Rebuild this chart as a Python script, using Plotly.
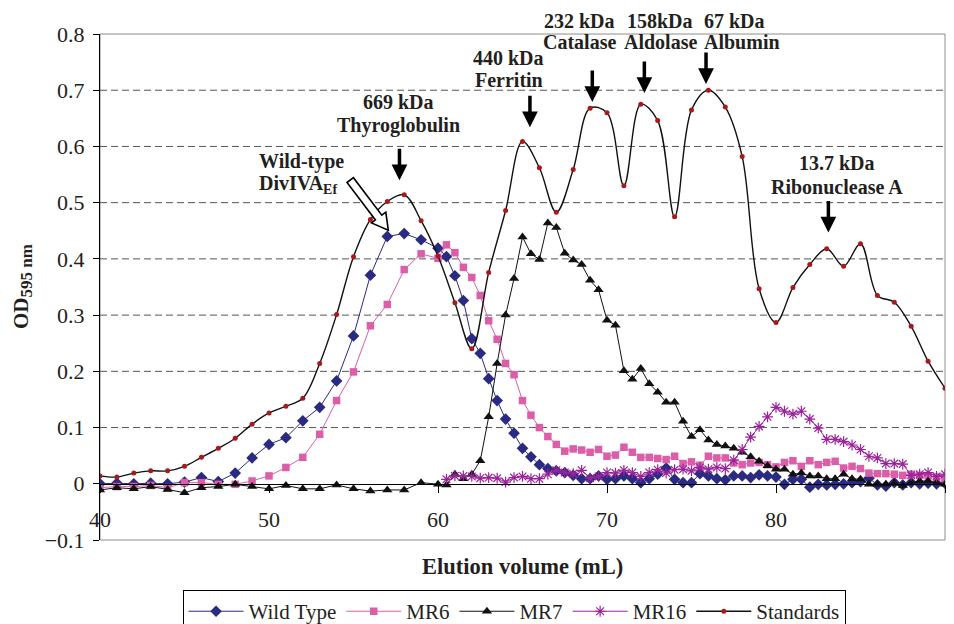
import plotly.graph_objects as go

# ---------------- data ----------------
x_main = [40, 41, 42, 43, 44, 45, 46, 47, 48, 49, 50, 51, 52, 53, 54, 55, 56, 57, 58, 59, 60,
          60.5, 61, 61.5, 62, 62.5, 63, 63.5, 64, 64.5, 65, 65.5, 66, 66.5, 67, 67.5, 68, 68.5,
          69, 69.5, 70, 70.5, 71, 71.5, 72, 72.5, 73, 73.5, 74, 74.5, 75, 75.5, 76, 76.5, 77,
          77.5, 78, 78.5, 79, 79.5, 80, 80.5, 81, 81.5, 82, 82.5, 83, 83.5, 84, 84.5, 85, 85.5,
          86, 86.5, 87, 87.5, 88, 88.5, 89, 89.5, 90]

wild_type = [0.000, 0.001, 0.000, 0.001, 0.000, 0.003, 0.011, 0.004, 0.019, 0.046, 0.070, 0.082,
             0.112, 0.136, 0.183, 0.263, 0.371, 0.440, 0.445, 0.434, 0.419,
             0.404, 0.370, 0.326, 0.258, 0.232, 0.187, 0.148, 0.115, 0.090, 0.063, 0.048, 0.034,
             0.027, 0.023, 0.020, 0.015, 0.009, 0.009, 0.014, 0.008, 0.009, 0.014, 0.009, 0.002,
             0.009, 0.017, 0.028, 0.008, 0.002, 0.002, 0.018, 0.014, 0.009, 0.007, 0.014, 0.014,
             0.011, 0.016, 0.014, 0.012, -0.001, 0.008, 0.008, -0.006, -0.001, -0.002, -0.001,
             0.000, 0.002, 0.004, 0.010, -0.002, -0.004, 0.002, -0.002, 0.002, 0.000, 0.001,
             0.000, 0.001]

mr6 = [-0.007, -0.005, -0.005, -0.003, -0.007, 0.002, 0.002, -0.001, -0.001, 0.005, 0.014, 0.029,
       0.047, 0.088, 0.148, 0.199, 0.281, 0.319, 0.381, 0.409, 0.401,
       0.425, 0.411, 0.385, 0.367, 0.335, 0.290, 0.257, 0.214, 0.194, 0.148, 0.122, 0.100, 0.084,
       0.070, 0.058, 0.062, 0.060, 0.056, 0.061, 0.049, 0.051, 0.065, 0.056, 0.047, 0.047, 0.045,
       0.043, 0.049, 0.036, 0.039, 0.033, 0.049, 0.046, 0.046, 0.037, 0.034, 0.037, 0.038, 0.034,
       0.030, 0.038, 0.041, 0.031, 0.041, 0.034, 0.038, 0.040, 0.028, 0.031, 0.027, 0.019, 0.018,
       0.018, 0.017, 0.015, 0.017, 0.015, 0.014, 0.012, 0.009]

mr7 = [-0.011, -0.007, -0.009, -0.005, -0.010, -0.016, -0.007, -0.005, -0.001, -0.005, -0.009,
       -0.003, -0.009, -0.009, -0.002, -0.009, -0.013, -0.011, -0.011, 0.002, -0.001,
       -0.002, 0.017, 0.009, 0.017, 0.041, 0.119, 0.214, 0.300, 0.365, 0.439, 0.409, 0.399, 0.464,
       0.456, 0.410, 0.398, 0.390, 0.362, 0.345, 0.291, 0.282, 0.201, 0.186, 0.205, 0.178, 0.163,
       0.145, 0.145, 0.111, 0.084, 0.096, 0.078, 0.070, 0.067, 0.063, 0.056, 0.048, 0.040, 0.032,
       0.026, 0.026, 0.017, 0.019, 0.014, 0.014, 0.009, 0.009, 0.017, 0.009, 0.008, -0.001,
       -0.001, -0.001, 0.001, -0.003, 0.002, 0.005, 0.005, 0.002, -0.001]

x_mr16 = [60.5, 61, 61.5, 62, 62.5, 63, 63.5, 64, 64.5, 65, 65.5, 66, 66.5, 67, 67.5, 68, 68.5,
          69, 69.5, 70, 70.5, 71, 71.5, 72, 72.5, 73, 73.5, 74, 74.5, 75, 75.5, 76, 76.5, 77,
          77.5, 78, 78.5, 79, 79.5, 80, 80.5, 81, 81.5, 82, 82.5, 83, 83.5, 84, 84.5, 85, 85.5,
          86, 86.5, 87, 87.5, 88, 88.5, 89, 89.5, 90]

mr16 = [0.008, 0.014, 0.014, 0.013, 0.010, 0.011, 0.010, 0.003, 0.011, 0.013, 0.009, 0.009, 0.017,
        0.024, 0.020, 0.018, 0.024, 0.010, 0.013, 0.020, 0.019, 0.024, 0.020, 0.013, 0.020, 0.025,
        0.019, 0.025, 0.026, 0.023, 0.029, 0.026, 0.029, 0.027, 0.042, 0.061, 0.083, 0.102, 0.119,
        0.136, 0.129, 0.124, 0.129, 0.115, 0.099, 0.079, 0.079, 0.075, 0.069, 0.061, 0.049, 0.046,
        0.036, 0.036, 0.035, 0.015, 0.017, 0.020, 0.013, 0.017]

x_std = [40, 41, 42, 43, 44, 45, 46, 47, 48, 49, 50, 51, 52, 53, 54, 55, 56, 57, 58, 59, 60,
         61, 62, 63, 64, 65, 66, 67, 68, 69, 70, 71, 72, 73, 74, 75, 76, 77, 78, 79, 80,
         81, 82, 83, 84, 85, 86, 87, 88, 89, 90]

standards = [0.014, 0.012, 0.019, 0.023, 0.023, 0.031, 0.047, 0.063, 0.081, 0.106, 0.126, 0.138,
             0.152, 0.214, 0.301, 0.404, 0.470, 0.502, 0.514, 0.468, 0.405, 0.322, 0.240, 0.376,
             0.486, 0.609, 0.562, 0.483, 0.559, 0.668, 0.660, 0.530, 0.675, 0.646, 0.475, 0.665,
             0.700, 0.670, 0.582, 0.347, 0.287, 0.349, 0.390, 0.418, 0.387, 0.427, 0.335, 0.323,
             0.280, 0.218, 0.170]

x_range = [40, 90]
y_range = [-0.1, 0.8]
x_ticks = [40, 50, 60, 70, 80, 90]
y_ticks = [-0.1, 0, 0.1, 0.2, 0.3, 0.4, 0.5, 0.6, 0.7, 0.8]
y_grid = [0.1, 0.2, 0.3, 0.4, 0.5, 0.6, 0.7]

# labels: (line1, line2, text x, line1 y, line2 y, anchor, arrow x, arrow tip y)
peak_labels = [
    ("669 kDa", "Thyroglobulin", 57.65, 0.679, 0.638, "center", 57.72, 0.540),
    ("440 kDa", "Ferritin", 64.2, 0.757, 0.718, "center", 65.44, 0.634),
    ("232 kDa", "Catalase", 68.35, 0.824, 0.785, "center", 69.13, 0.679),
    ("158kDa", "Aldolase", 73.16, 0.824, 0.785, "center", 72.21, 0.695),
    ("67 kDa", "Albumin", 75.62, 0.824, 0.785, "left", 75.86, 0.711),
    ("13.7 kDa", "Ribonuclease A", 83.6, 0.571, 0.527, "center", 83.1, 0.447),
]
wt_label = ("Wild-type", "DivIVA<sub>Ef</sub>", 49.27, 0.573, 0.532, "left", 57.06, 0.451)

SERIF = "Liberation Serif, Times New Roman, serif"
TXT = "#231f20"
BODY = 8  # default page margin of the html body; the figure is shrunk to compensate


def ypaper(v):
    return (v - y_range[0]) / (y_range[1] - y_range[0])


fig = go.Figure()

fig.add_trace(go.Scatter(
    x=x_main, y=wild_type, name="Wild Type", mode="lines+markers",
    line=dict(color="#2b2a82", width=1),
    marker=dict(symbol="diamond", size=9, color="#2b2a82")))
fig.add_trace(go.Scatter(
    x=x_main, y=mr6, name="MR6", mode="lines+markers",
    line=dict(color="#dd5ea8", width=1),
    marker=dict(symbol="square", size=7.5, color="#dd5ea8")))
fig.add_trace(go.Scatter(
    x=x_main, y=mr7, name="MR7", mode="lines+markers",
    line=dict(color="#111111", width=1),
    marker=dict(symbol="triangle-up", size=9, color="#111111")))
fig.add_trace(go.Scatter(
    x=x_mr16, y=mr16, name="MR16", mode="lines+markers",
    line=dict(color="#9c229c", width=1),
    marker=dict(symbol="asterisk-open", size=9, color="#9c229c",
                line=dict(color="#9c229c", width=1.2))))
fig.add_trace(go.Scatter(
    x=x_std, y=standards, name="Standards", mode="lines+markers",
    line=dict(color="#111111", width=1.4, shape="spline", smoothing=1.0),
    marker=dict(symbol="circle", size=5, color="#a8191b")))

shapes = []
shapes.append(dict(type="rect", xref="paper", yref="paper", x0=0, x1=1, y0=0, y1=1,
                   line=dict(color="#8c8c8c", width=1), layer="below"))
for g in y_grid:
    shapes.append(dict(type="line", xref="paper", yref="y", x0=0, x1=1, y0=g, y1=g,
                       line=dict(color="#555555", width=1, dash="7px,4px"), layer="below"))
# hollow arrow pointing at the wild-type peak
shapes.append(dict(type="path", xref="x", yref="y", xsizemode="pixel", ysizemode="pixel",
                   xanchor=wt_label[6], yanchor=wt_label[7],
                   path="M0,0 L-2.5,18.1 L-6.5,15.1 L-34.9,52.5 L-41.3,47.7 L-12.9,10.3 L-16.9,7.3 Z",
                   fillcolor="white", line=dict(color="black", width=1.6)))

annotations = []
afont = dict(family=SERIF, size=20, color=TXT)
for l1, l2, tx, y1, y2, anc, axx, tip in peak_labels + [wt_label]:
    for txt, yy in ((l1, y1), (l2, y2)):
        annotations.append(dict(x=tx, y=ypaper(yy), xref="x", yref="paper",
                                text="<b>%s</b>" % txt, showarrow=False, font=afont,
                                xanchor=anc, yanchor="middle"))
for lab in peak_labels:
    annotations.append(dict(x=lab[6], y=lab[7], xref="x", yref="y", text="",
                            showarrow=True, ax=0, ay=-33, arrowhead=2, arrowsize=0.9,
                            arrowwidth=3.5, arrowcolor="black", standoff=0))

# axis titles
annotations.append(dict(x=0.5, y=-0.053, xref="paper", yref="paper",
                        text="<b>Elution volume (mL)</b>", showarrow=False,
                        font=dict(family=SERIF, size=22.5, color=TXT),
                        xanchor="center", yanchor="middle"))
annotations.append(dict(x=-0.0923, y=0.5, xref="paper", yref="paper",
                        text="<b>OD<sub><span style=\"font-size:17px\">595 nm</span></sub></b>",
                        showarrow=False, textangle=-90,
                        font=dict(family=SERIF, size=21, color=TXT),
                        xanchor="center", yanchor="middle"))

fig.update_layout(
    width=954 - BODY, height=624 - BODY,
    margin=dict(l=100 - BODY, r=9, t=34 - BODY, b=84, autoexpand=False),
    paper_bgcolor="white", plot_bgcolor="white",
    font=dict(family=SERIF, size=22, color=TXT),
    xaxis=dict(range=x_range, tickvals=x_ticks, ticks="outside", ticklen=8,
               tickcolor="black", showline=True, linecolor="black", linewidth=1,
               anchor="free", position=ypaper(0), showgrid=False, zeroline=False,
               ticklabelstandoff=8, automargin=False,
               tickfont=dict(family=SERIF, size=22, color=TXT)),
    yaxis=dict(range=y_range, tickvals=y_ticks, ticks="outside", ticklen=6,
               tickcolor="black", showline=True, linecolor="black", linewidth=1,
               showgrid=False, zeroline=False, ticklabelstandoff=4, automargin=False,
               tickfont=dict(family=SERIF, size=22, color=TXT)),
    legend=dict(orientation="h", x=0.49, xanchor="center", y=-0.099, yanchor="top",
                bordercolor="black", borderwidth=1, bgcolor="white",
                itemwidth=55,
                font=dict(family=SERIF, size=21, color=TXT)),
    shapes=shapes, annotations=annotations,
)

fig.write_html("out.html")
